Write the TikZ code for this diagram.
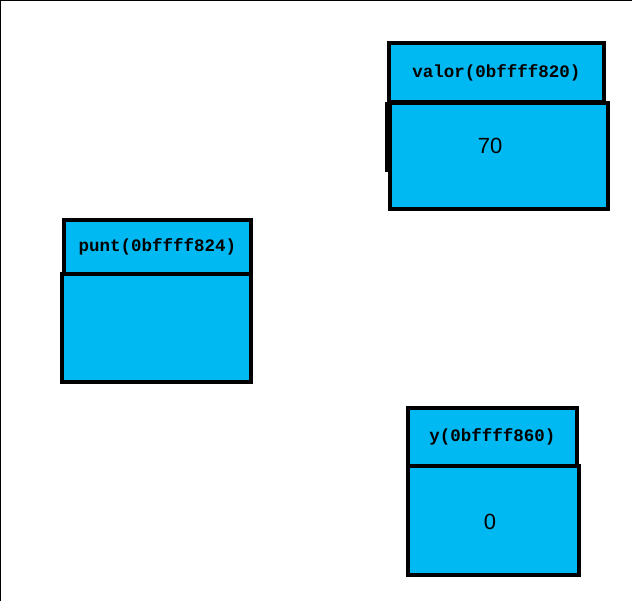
\documentclass[tikz,border=0pt]{standalone}
\usepackage{fontspec}
\setmainfont{Liberation Sans}
\setmonofont{Liberation Mono}
\definecolor{celda}{RGB}{0,185,242}
\tikzset{
  every path/.style={
    black,
    line width=4pt
  },
  cabecera/.style={
    draw,
    fill=celda,
    rectangle,
    inner sep=0pt,
    font=\ttfamily\bfseries\fontsize{17.5}{20}\selectfont
  },
  contenido/.style={
    draw,
    fill=celda,
    rectangle,
    inner sep=0pt
  },
  valortexto/.style={
    inner sep=0pt,
    font=\fontsize{22}{26}\selectfont
  }
}

\begin{document}
\begin{tikzpicture}[x=1pt,y=-1pt]
    \useasboundingbox (0,0) rectangle (632,601);
    % marco superior e izquierdo
    \draw[line width=1pt] (0,601) -- (0,0.5) -- (632,0.5);

    % variable valor
    \node[contenido,minimum width=218,minimum height=106] (valorcaja) at (499,156) {};
    \node[cabecera,minimum width=215,minimum height=59] (valorcab) at (496.5,72.5) {valor(0bffff820)};
    \draw[line cap=rect] (valorcab.south west) -- ++(0,66);
    \node[valortexto] (valortxt) at (490,146) {70};

    % variable punt
    \node[contenido,minimum width=189,minimum height=108] (puntcaja) at (156.5,328) {};
    \node[cabecera,minimum width=187,minimum height=54] (puntcab) at (157.5,247) {punt(0bffff824)};

    % variable y
    \node[contenido,minimum width=171,minimum height=109] (ycaja) at (493.5,520.5) {};
    \node[cabecera,minimum width=169,minimum height=58] (ycab) at (492.5,437) {y(0bffff860)};
    \node[valortexto] (ytxt) at (490,522) {0};
\end{tikzpicture}
\end{document}
